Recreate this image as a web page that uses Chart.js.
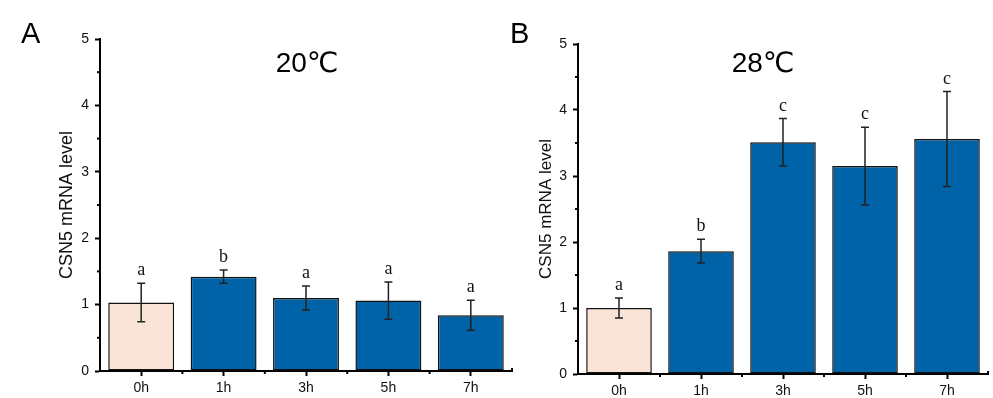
<!DOCTYPE html>
<html>
<head>
<meta charset="utf-8">
<script src="https://cdn.jsdelivr.net/npm/chart.js@4.4.0/dist/chart.umd.min.js"></script>
<style>
  body { margin: 0; background: #fff; }
  #wrap { position: relative; width: 993px; height: 398px; overflow: hidden; }
  canvas { position: absolute; top: 0; }
</style>
</head>
<body>
<div id="wrap">
  <canvas id="chartA" width="520" height="398" style="left:0"></canvas>
  <canvas id="chartB" width="493" height="398" style="left:500px"></canvas>
</div>
<script>
// data
const categories = ['0h', '1h', '3h', '5h', '7h'];
const meanA = [1.03, 1.42, 1.10, 1.06, 0.84];
const errA = [0.29, 0.10, 0.18, 0.28, 0.225];
const lettersA = ['a', 'b', 'a', 'a', 'a'];
const meanB = [1.00, 1.86, 3.51, 3.15, 3.56];
const errB = [0.15, 0.18, 0.36, 0.59, 0.72];
const lettersB = ['a', 'b', 'c', 'c', 'c'];
const yMin = 0;
const yMax = 5;

const peach = '#F9E4D7';
const blue = '#0063A8';
const barColors = categories.map((c, i) => i == 0 ? peach : blue);

// error bars, letters, minor ticks, panel labels
const extras = {
    id: 'extras',
    afterDatasetsDraw(chart, args, opts) {
        const ctx = chart.ctx;
        const x = chart.scales.x;
        const y = chart.scales.y;
        const area = chart.chartArea;
        ctx.save();

        // error bars
        ctx.strokeStyle = '#222';
        ctx.lineWidth = 1.5;
        opts.means.forEach((m, i) => {
            const px = x.getPixelForValue(i);
            const top = y.getPixelForValue(m + opts.errs[i]);
            const bot = y.getPixelForValue(m - opts.errs[i]);
            ctx.beginPath();
            ctx.moveTo(px, top); ctx.lineTo(px, bot);
            ctx.moveTo(px - 4, top); ctx.lineTo(px + 4, top);
            ctx.moveTo(px - 4, bot); ctx.lineTo(px + 4, bot);
            ctx.stroke();

            ctx.fillStyle = '#111';
            ctx.font = '18px "Liberation Serif"';
            ctx.textAlign = 'center';
            ctx.textBaseline = 'alphabetic';
            ctx.fillText(opts.letters[i], px, top - 8);
        });

        // minor ticks
        ctx.strokeStyle = '#000';
        ctx.lineWidth = 2;
        for (let v = yMin + 0.5; v < yMax; v += 1) {
            const py = y.getPixelForValue(v);
            ctx.beginPath();
            ctx.moveTo(area.left - 3, py); ctx.lineTo(area.left, py);
            ctx.stroke();
        }
        const step = x.getPixelForValue(1) - x.getPixelForValue(0);
        for (let i = 0; i < categories.length - 1; i++) {
            const px = x.getPixelForValue(i) + step / 2;
            ctx.beginPath();
            ctx.moveTo(px, area.bottom); ctx.lineTo(px, area.bottom + 3);
            ctx.stroke();
        }
        ctx.beginPath();
        ctx.moveTo(area.right, area.bottom); ctx.lineTo(area.right, area.bottom - 3);
        ctx.stroke();

        // big title and panel letter
        ctx.fillStyle = '#000';
        ctx.textAlign = 'center';
        ctx.font = '28px "Liberation Sans", "DejaVu Sans"';
        ctx.fillText(opts.title, opts.titleX, 72);
        ctx.textAlign = 'left';
        ctx.font = '29px "Liberation Sans"';
        ctx.fillText(opts.panel, opts.panelX, 43);
        ctx.restore();
    }
};

function generateChart(id, means, errs, letters, title, panel, geo) {
    let el = document.getElementById(id).getContext('2d');
    return new Chart(el, {
        type: 'bar',
        data: {
            labels: categories,
            datasets: [{
                data: means,
                backgroundColor: barColors,
                borderColor: '#111',
                borderWidth: 1.5,
                borderSkipped: false,
                barPercentage: 0.8,
                categoryPercentage: 1.0
            }]
        },
        options: {
            responsive: false,
            animation: false,
            layout: { padding: { top: geo.top, right: geo.right, left: 0, bottom: 0 } },
            plugins: {
                legend: { display: false },
                tooltip: { enabled: false },
                extras: {
                    means: means, errs: errs, letters: letters,
                    title: title, titleX: geo.titleX,
                    panel: panel, panelX: geo.panelX
                }
            },
            scales: {
                x: {
                    afterFit: (s) => { s.height = geo.xHeight; },
                    border: { display: true, color: '#000', width: 2 },
                    grid: { display: true, offset: false, drawOnChartArea: false, tickLength: 5, tickColor: '#000', tickWidth: 2 },
                    ticks: { color: '#111', padding: 4, font: { family: 'Liberation Sans', size: 14 } }
                },
                y: {
                    min: yMin,
                    max: yMax,
                    afterFit: (s) => { s.width = geo.yWidth; },
                    border: { display: true, color: '#000', width: 2 },
                    grid: { display: true, drawOnChartArea: false, tickLength: 5, tickColor: '#000', tickWidth: 2 },
                    ticks: { stepSize: 1, color: '#111', padding: 6, font: { family: 'Liberation Sans', size: 14 } },
                    title: {
                        display: true,
                        text: 'CSN5 mRNA level',
                        color: '#111',
                        padding: { top: geo.titlePad, bottom: 0 },
                        font: { family: 'Liberation Sans', size: geo.titleSize }
                    }
                }
            }
        },
        plugins: [extras]
    });
}

generateChart('chartA', meanA, errA, lettersA, '20\u2103', 'A',
    { top: 39, right: 8, xHeight: 27, yWidth: 100, titlePad: 56, titleSize: 18, titleX: 307, panelX: 21 });
generateChart('chartB', meanB, errB, lettersB, '28\u2103', 'B',
    { top: 44, right: 5, xHeight: 24, yWidth: 78, titlePad: 36, titleSize: 17, titleX: 263, panelX: 10 });
</script>
</body>
</html>
